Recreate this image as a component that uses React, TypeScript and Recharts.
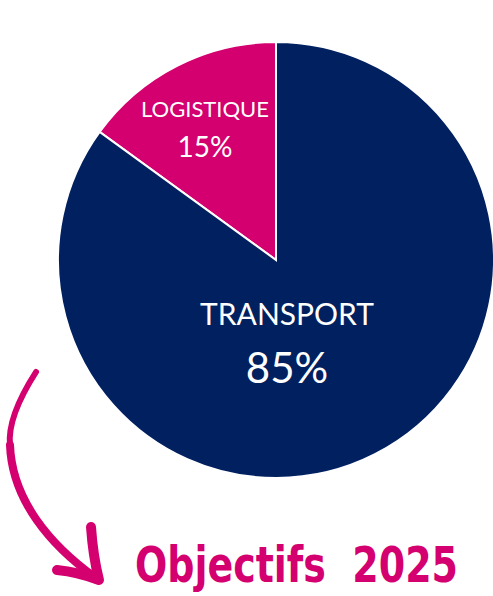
import { PieChart, Pie, Cell } from 'recharts';

const categories = ['LOGISTIQUE', 'TRANSPORT'];
const shares = [15, 85];
const sliceColors = ['#D4006F', '#002060'];

const data = categories.map((name, i) => ({ name, value: shares[i] }));

// label placement relative to the pie centre, per slice
const LABEL_POS = [
  { dx: -71, nameY: -143, valueY: -103, nameSize: 22, valueSize: 28 },
  { dx: 11, nameY: 65, valueY: 123, nameSize: 30, valueSize: 42 },
];

const PINK = '#D4006F';

function renderLabel(props: any) {
  const { cx, cy, index, name, percent } = props;
  const pos = LABEL_POS[index];
  const font = 'Lato, "Open Sans", sans-serif';
  return (
    <g>
      <text x={cx + pos.dx} y={cy + pos.nameY} textAnchor="middle" fill="#fff" fontFamily={font} fontSize={pos.nameSize}>
        {name}
      </text>
      <text x={cx + pos.dx} y={cy + pos.valueY} textAnchor="middle" fill="#fff" fontFamily={font} fontSize={pos.valueSize}>
        {`${Math.round(percent * 100)}%`}
      </text>
    </g>
  );
}

export default function App() {
  return (
    <div style={{ position: 'absolute', top: 0, left: 0, width: 493, height: 596, background: '#fff' }}>
      <PieChart width={493} height={596} margin={{ top: 0, right: 0, bottom: 0, left: 0 }}>
        <Pie
          data={data}
          dataKey="value"
          nameKey="name"
          cx={276}
          cy={260}
          outerRadius={218}
          startAngle={90}
          endAngle={450}
          stroke="#fff"
          strokeWidth={2}
          labelLine={false}
          label={renderLabel}
          isAnimationActive={false}
        >
          {data.map((_d, i) => (
            <Cell key={`cell-${i}`} fill={sliceColors[i]} />
          ))}
        </Pie>
      </PieChart>
      <svg width={493} height={596} style={{ position: 'absolute', top: 0, left: 0, pointerEvents: 'none' }}>
        <path d="M 36 372 C 18 400, 8 425, 10 445" fill="none" stroke={PINK} strokeWidth={6} strokeLinecap="round" />
        <path d="M 10 445 C 12 500, 50 545, 96 578" fill="none" stroke={PINK} strokeWidth={8} strokeLinecap="round" />
        <path d="M 91 527 Q 93 556 99 580 Q 78 572 57 570" fill="none" stroke={PINK} strokeWidth={10} strokeLinecap="round" strokeLinejoin="round" />
        <text
          x={135}
          y={582}
          fill={PINK}
          fontFamily='"Liberation Sans Narrow", "DejaVu Sans Condensed", sans-serif'
          fontWeight="bold"
          fontSize={50}
          textLength={323}
          lengthAdjust="spacingAndGlyphs"
          style={{ whiteSpace: 'pre' }}
        >
          {'Objectifs  2025'}
        </text>
      </svg>
    </div>
  );
}
